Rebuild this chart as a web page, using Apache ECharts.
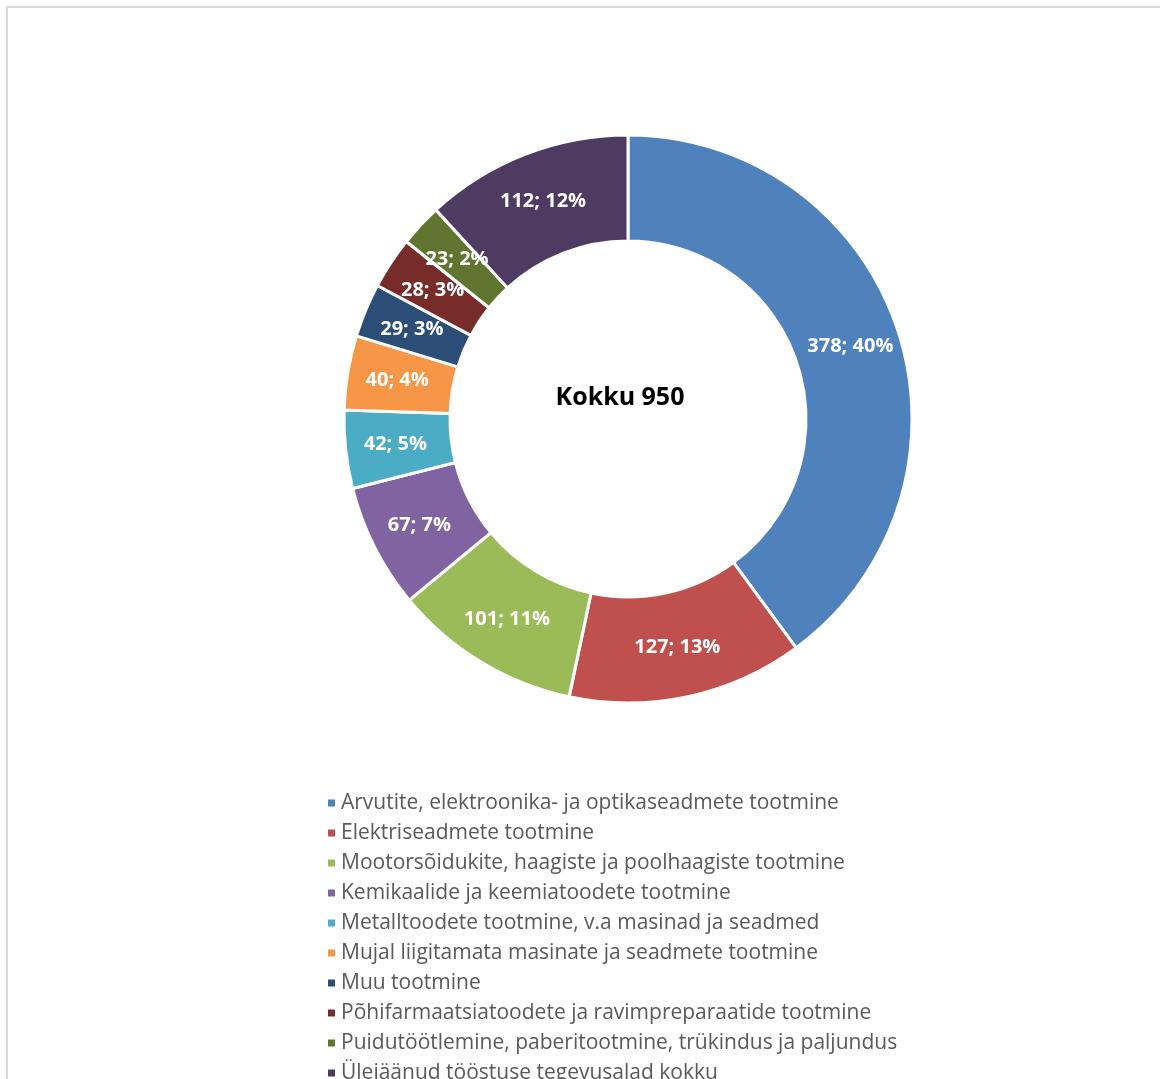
<!DOCTYPE html>
<html>
<head>
<meta charset="utf-8">
<script src="https://cdn.jsdelivr.net/npm/echarts@6/dist/echarts.min.js"></script>
<style>
  html, body { margin: 0; padding: 0; background: #ffffff; }
  #chart { width: 1160px; height: 1079px; }
</style>
</head>
<body>
<div id="chart"></div>
<script>
// Tööstuse tegevusalad (arv) ja koguarv
const categories = [
  'Arvutite, elektroonika- ja optikaseadmete tootmine',
  'Elektriseadmete tootmine',
  'Mootorsõidukite, haagiste ja poolhaagiste tootmine',
  'Kemikaalide ja keemiatoodete tootmine',
  'Metalltoodete tootmine, v.a masinad ja seadmed',
  'Mujal liigitamata masinate ja seadmete tootmine',
  'Muu tootmine',
  'Põhifarmaatsiatoodete ja ravimpreparaatide tootmine',
  'Puidutöötlemine, paberitootmine, trükindus ja paljundus',
  'Ülejäänud tööstuse tegevusalad kokku'
];
const values = [378, 127, 101, 67, 42, 40, 29, 28, 23, 112];
const totalLabel = 'Kokku 950';

const colors = [
  '#4F81BD', '#C0504D', '#9BBB59', '#8064A2', '#4BACC6',
  '#F79646', '#2C4D75', '#772C2A', '#5F7530', '#4D3B62'
];

const fontFamily = '"Open Sans", Lato, sans-serif';

const chart = echarts.init(document.getElementById('chart'), null, { renderer: 'canvas' });

chart.setOption({
  animation: false,
  color: colors,
  graphic: [
    {
      type: 'rect',
      shape: { x: 7, y: 7, width: 1300, height: 1300 },
      style: { fill: 'none', stroke: '#d9d9d9', lineWidth: 2 },
      silent: true
    },
    {
      type: 'text',
      x: 620,
      y: 398,
      style: {
        text: totalLabel,
        fill: '#000000',
        font: 'bold 25px ' + fontFamily,
        align: 'center',
        verticalAlign: 'middle'
      },
      silent: true
    }
  ],
  legend: {
    orient: 'vertical',
    left: 321,
    top: 786,
    height: 400,
    itemWidth: 9,
    itemHeight: 9,
    itemGap: 6,
    icon: 'rect',
    textStyle: {
      color: '#595959',
      fontSize: 21,
      fontFamily: fontFamily,
      lineHeight: 24
    },
    data: categories
  },
  series: [
    {
      type: 'pie',
      center: [628, 419],
      radius: [178, 284],
      startAngle: 90,
      clockwise: true,
      percentPrecision: 0,
      avoidLabelOverlap: false,
      itemStyle: { borderColor: '#ffffff', borderWidth: 3 },
      label: {
        show: true,
        position: 'inside',
        formatter: '{c}; {d}%',
        color: '#ffffff',
        fontSize: 20,
        fontWeight: 'bold',
        fontFamily: fontFamily
      },
      labelLine: { show: false },
      emphasis: { disabled: true },
      data: categories.map((name, i) => ({ name: name, value: values[i] }))
    }
  ]
});
</script>
</body>
</html>
